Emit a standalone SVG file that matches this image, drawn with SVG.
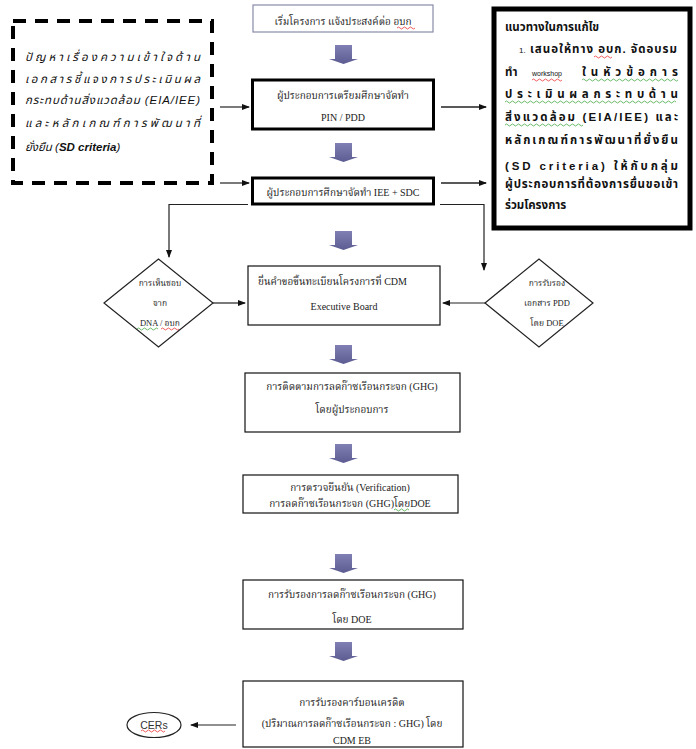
<svg xmlns="http://www.w3.org/2000/svg" width="696" height="749" viewBox="0 0 696 749">
<defs>
<style>
.t{font-family:"Liberation Serif","Noto Serif Thai","Noto Sans Thai",serif;font-size:10px;fill:#222}
.s{font-family:"Liberation Sans","Noto Sans Thai",sans-serif;font-size:11.5px;fill:#111}
.i{font-style:italic}
.b{font-weight:bold}
.box{fill:#fff;stroke:#111;stroke-width:1.2}
.thick{fill:#fff;stroke:#000;stroke-width:3}
.ln{fill:none;stroke:#222;stroke-width:1.2}
.blk{fill:url(#g)}
.wr{fill:none;stroke:#e33;stroke-width:0.8}
.wg{fill:none;stroke:#4a4;stroke-width:0.8}
</style>
<linearGradient id="g" x1="0" y1="0" x2="0" y2="1">
<stop offset="0" stop-color="#8080b4"/>
<stop offset="1" stop-color="#5c5c92"/>
</linearGradient>
<marker id="ar" markerWidth="8" markerHeight="8" refX="7" refY="4" orient="auto" markerUnits="userSpaceOnUse">
<path d="M0,1 L8,4 L0,7 Z" fill="#111"/>
</marker>
<path id="bar" d="M-8.5,0 H8.5 V14 H14.5 L0,19 L-14.5,14 H-8.5 Z"/>
</defs>
<rect width="696" height="749" fill="#fff"/>

<g id="connectors">
<line class="ln" x1="220" y1="107" x2="249" y2="107" marker-end="url(#ar)"/>
<line class="ln" x1="220" y1="183" x2="249" y2="183" marker-end="url(#ar)"/>
<line class="ln" x1="441" y1="107" x2="486" y2="107" marker-end="url(#ar)" style="stroke-width:1.5"/>
<line class="ln" x1="441" y1="183" x2="486" y2="183" marker-end="url(#ar)" style="stroke-width:1.5"/>
<polyline class="ln" points="248,204.5 169,204.5 169,257" marker-end="url(#ar)"/>
<polyline class="ln" points="440,204.5 484,204.5 484,270" marker-end="url(#ar)"/>
<line class="ln" x1="213" y1="303" x2="245" y2="303" marker-end="url(#ar)"/>
<line class="ln" x1="485" y1="303" x2="443" y2="303" marker-end="url(#ar)"/>
<line class="ln" x1="236" y1="725" x2="191" y2="725" marker-end="url(#ar)"/>
<use href="#bar" class="blk" x="343.5" y="45"/>
<use href="#bar" class="blk" x="343.5" y="143"/>
<use href="#bar" class="blk" x="343.5" y="231"/>
<use href="#bar" class="blk" x="343.5" y="345"/>
<use href="#bar" class="blk" x="343.5" y="444"/>
<use href="#bar" class="blk" x="343.5" y="554"/>
<use href="#bar" class="blk" x="343.5" y="642"/>
</g>

<g id="problem">
<rect x="13" y="21" width="199" height="162" fill="#fff" stroke="#000" stroke-width="4" stroke-dasharray="13,9"/>
<text class="s i" x="25" y="61" textLength="175" lengthAdjust="spacing">ปัญหาเรื่องความเข้าใจด้าน</text>
<text class="s i" x="25" y="83" textLength="175" lengthAdjust="spacing">เอกสารชี้แจงการประเมินผล</text>
<text class="s i" x="25" y="104" textLength="175" lengthAdjust="spacing">กระทบด้านสิ่งแวดล้อม (EIA/IEE)</text>
<text class="s i" x="25" y="127" textLength="175" lengthAdjust="spacing">และหลักเกณฑ์การพัฒนาที่</text>
<text class="s i" x="25" y="151">ยั่งยืน (<tspan class="b">SD criteria</tspan>)</text>
</g>

<g id="start">
<rect x="253" y="5" width="180" height="27" fill="#fff" stroke="#8a8aaa" stroke-width="1.2"/>
<text class="t" x="343" y="25" text-anchor="middle">เริ่มโครงการ แจ้งประสงค์ต่อ อบก</text>
<path class="wr" d="M397,28 q1.5,-2 3,0 t3,0 t3,0 t3,0 t3,0 t3,0"/>
</g>

<g id="prepare">
<rect class="thick" x="252.5" y="80" width="181" height="49"/>
<text class="t" x="343" y="99" text-anchor="middle">ผู้ประกอบการเตรียมศึกษาจัดทำ</text>
<text class="t" x="343" y="121" text-anchor="middle">PIN / PDD</text>
</g>

<g id="study">
<rect class="thick" x="252.5" y="178" width="181" height="26"/>
<text class="t" x="343" y="196" text-anchor="middle">ผู้ประกอบการศึกษาจัดทำ IEE + SDC</text>
</g>

<g id="solution">
<rect x="494" y="9" width="196" height="219" fill="#fff" stroke="#000" stroke-width="5"/>
<text class="s b" x="505" y="31">แนวทางในการแก้ไข</text>
<text class="s" x="519" y="53" style="font-size:8px">1.</text>
<text class="s b" x="530" y="53" textLength="147" lengthAdjust="spacing">เสนอให้ทาง อบก. จัดอบรม</text>
<text class="s b" x="505" y="76">ทำ</text>
<text class="s" x="532" y="76" style="font-size:7px">workshop</text>
<text class="s b" x="582" y="76" textLength="96" lengthAdjust="spacing">ในหัวข้อการ</text>
<text class="s b" x="505" y="98" textLength="173" lengthAdjust="spacing">ประเมินผลกระทบด้าน</text>
<text class="s b" x="505" y="121" textLength="173" lengthAdjust="spacing">สิ่งแวดล้อม (EIA/IEE) และ</text>
<text class="s b" x="505" y="144" textLength="173" lengthAdjust="spacing">หลักเกณฑ์การพัฒนาที่ยั่งยืน</text>
<text class="s b" x="505" y="170" textLength="173" lengthAdjust="spacing">(SD criteria) ให้กับกลุ่ม</text>
<text class="s b" x="505" y="188" textLength="173" lengthAdjust="spacing">ผู้ประกอบการที่ต้องการยื่นขอเข้า</text>
<text class="s b" x="505" y="209">ร่วมโครงการ</text>
<path class="wr" d="M594,57 q1.5,-2 3,0 t3,0 t3,0 t3,0 t3,0 t3,0"/>
<path class="wr" d="M532,80 q1.5,-2 3,0 t3,0 t3,0 t3,0 t3,0 t3,0 t3,0 t3,0 t3,0 t3,0"/>
<path class="wg" d="M582,80 q1.5,-2 3,0 t3,0 t3,0 t3,0 t3,0 t3,0 t3,0 t3,0 t3,0 t3,0 t3,0 t3,0 t3,0 t3,0 t3,0 t3,0 t3,0 t3,0 t3,0 t3,0 t3,0 t3,0 t3,0 t3,0 t3,0 t3,0 t3,0 t3,0 t3,0 t3,0 t3,0 t3,0"/>
<path class="wg" d="M505,102 q1.5,-2 3,0 t3,0 t3,0 t3,0 t3,0 t3,0 t3,0 t3,0 t3,0 t3,0 t3,0 t3,0 t3,0 t3,0 t3,0 t3,0 t3,0 t3,0 t3,0 t3,0 t3,0 t3,0 t3,0 t3,0 t3,0 t3,0 t3,0 t3,0 t3,0 t3,0 t3,0 t3,0 t3,0 t3,0 t3,0 t3,0 t3,0 t3,0 t3,0 t3,0 t3,0 t3,0 t3,0 t3,0 t3,0 t3,0 t3,0 t3,0 t3,0 t3,0 t3,0 t3,0 t3,0 t3,0 t3,0 t3,0 t3,0"/>
<path class="wg" d="M505,125 q1.5,-2 3,0 t3,0 t3,0 t3,0 t3,0 t3,0 t3,0 t3,0 t3,0 t3,0 t3,0 t3,0 t3,0 t3,0 t3,0 t3,0 t3,0 t3,0 t3,0 t3,0 t3,0 t3,0 t3,0 t3,0 t3,0 t3,0"/>
</g>

<g id="dna">
<polygon points="104,303 158.5,259 213,303 158.5,347" fill="#fff" stroke="#222" stroke-width="1.2"/>
<text class="t" x="160" y="286" text-anchor="middle" style="font-size:8.5px">การเห็นชอบ</text>
<text class="t" x="160" y="306" text-anchor="middle" style="font-size:8.5px">จาก</text>
<text class="t" x="160" y="326" text-anchor="middle" style="font-size:8.5px">DNA / อบก</text>
<path class="wg" d="M137,329 q1.5,-2 3,0 t3,0 t3,0 t3,0 t3,0 t3,0 t3,0"/>
<path class="wr" d="M161,329 q1.5,-2 3,0 t3,0 t3,0 t3,0 t3,0 t3,0"/>
</g>

<g id="register">
<rect class="box" x="248" y="266" width="192" height="59"/>
<text class="t" x="258" y="285">ยื่นคำขอขึ้นทะเบียนโครงการที่  CDM</text>
<text class="t" x="344" y="310" text-anchor="middle">Executive Board</text>
</g>

<g id="doe">
<polygon points="485,303 539,259 593,303 539,347" fill="#fff" stroke="#222" stroke-width="1.2"/>
<text class="t" x="547" y="286" text-anchor="middle" style="font-size:8.5px">การรับรอง</text>
<text class="t" x="547" y="306" text-anchor="middle" style="font-size:8.5px">เอกสาร PDD</text>
<text class="t" x="547" y="326" text-anchor="middle" style="font-size:8.5px">โดย DOE</text>
</g>

<g id="monitor">
<rect class="box" x="245" y="373" width="215" height="59"/>
<text class="t" x="352" y="390" text-anchor="middle">การติดตามการลดก๊าซเรือนกระจก (GHG)</text>
<text class="t" x="352" y="413" text-anchor="middle">โดยผู้ประกอบการ</text>
</g>

<g id="verify">
<rect class="box" x="243" y="475" width="215" height="38"/>
<text class="t" x="350" y="491" text-anchor="middle">การตรวจยืนยัน (Verification)</text>
<text class="t" x="350" y="507" text-anchor="middle">การลดก๊าซเรือนกระจก (GHG)โดยDOE</text>
<path class="wg" d="M394,510 q1.5,-2 3,0 t3,0 t3,0 t3,0 t3,0"/>
</g>

<g id="certify">
<rect class="box" x="243" y="580" width="220" height="49"/>
<text class="t" x="352" y="598" text-anchor="middle">การรับรองการลดก๊าซเรือนกระจก (GHG)</text>
<text class="t" x="352" y="623" text-anchor="middle">โดย DOE</text>
</g>

<g id="issue">
<rect class="box" x="243" y="681" width="220" height="66"/>
<text class="t" x="352" y="706" text-anchor="middle">การรับรองคาร์บอนเครดิต</text>
<text class="t" x="352" y="727" text-anchor="middle">(ปริมาณการลดก๊าซเรือนกระจก : GHG) โดย</text>
<text class="t" x="352" y="744" text-anchor="middle">CDM EB</text>
</g>

<g id="cers">
<ellipse cx="154" cy="725" rx="27" ry="12.5" fill="#fff" stroke="#222" stroke-width="1.2"/>
<text x="154" y="729" text-anchor="middle" style="font-family:'Liberation Sans',sans-serif;font-size:10.5px;fill:#333">CERs</text>
<path class="wr" d="M141,731 q1.5,-2 3,0 t3,0 t3,0 t3,0 t3,0 t3,0 t3,0 t3,0"/>
</g>
</svg>
